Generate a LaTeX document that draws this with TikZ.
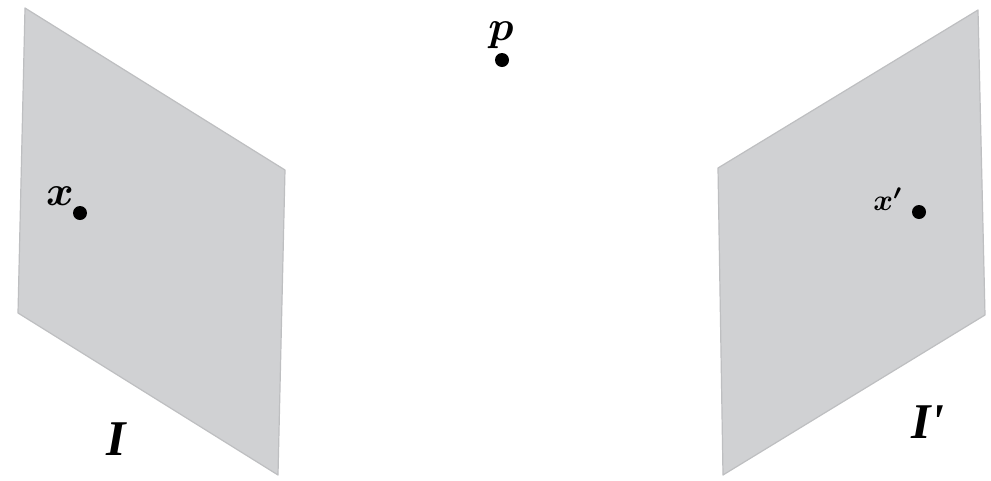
\documentclass[tikz,border=0pt]{standalone}
\usepackage{amsmath,bm}
\usepackage{fontspec}
\newfontfamily\timesf{Liberation Serif}
\definecolor{planegray}{RGB}{208,209,211}
\definecolor{planeedge}{RGB}{190,191,193}
\begin{document}
\begin{tikzpicture}[x=1pt,y=-1pt,
  plane/.style={fill=planegray,draw=planeedge,line width=1.2pt,line join=round},
  pt/.style={circle,fill=black,inner sep=0pt,minimum size=14pt},
  lab/.style={inner sep=0pt,anchor=base},
  biglab/.style={lab,font=\fontsize{50}{50}\selectfont\timesf\bfseries\itshape}]
\useasboundingbox (0,0) rectangle (991,480);
% left image plane
\path[plane] (25,8) -- (285,170) -- (278,475) -- (18,313) -- cycle;
% right image plane
\path[plane] (718,168) -- (978,10) -- (985,315) -- (723,475) -- cycle;
% points
\node[pt] (P) at (502,60) {};
\node[pt] (X) at (80,213) {};
\node[pt] (Xp) at (919,212) {};
% labels
\node[lab,scale=4.2] (Plab) at (501,40) {$\bm{p}$};
\node[lab,scale=4.2] (Xlab) at (60,205) {$\bm{x}$};
\node[lab,scale=3.0] (Xplab) at (888,210) {$\bm{x'}$};
\node[biglab] (Ilab) at (116,455) {I};
\node[biglab] (Iplab) at (928,438) {I\textquotesingle};
\end{tikzpicture}
\end{document}
